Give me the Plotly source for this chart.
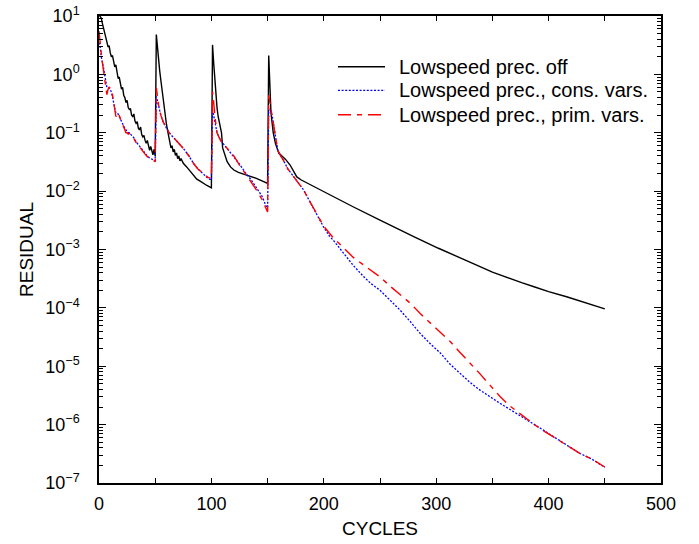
import plotly.graph_objects as go

# ---------------- data ----------------
off_x = [0, 1, 2, 3, 4, 5, 6, 7, 8, 9, 10, 11, 12, 13, 14, 15, 16, 17, 18, 19,
         20, 21, 22, 23, 24, 25, 26, 27, 28, 29, 30, 31, 32, 33, 34, 35, 36, 37, 38, 39,
         40, 41, 42, 43, 44, 45, 46, 47, 48, 49, 50, 51, 52, 53, 54, 55, 56, 57, 58, 59,
         60, 61, 62, 63, 64, 65, 66, 67, 68, 69, 70, 71, 72, 73, 75, 78, 81, 84, 87, 90,
         93, 96, 100, 101, 102, 103, 104, 105, 106, 107, 108, 109, 110, 112, 114, 117, 120, 124, 128, 134,
         140, 145, 150, 151, 152, 153, 155, 157, 160, 163, 166, 170, 173, 176, 180, 185, 190, 200, 210, 226,
         250, 271, 280, 302, 320, 336, 350, 364, 376, 387, 400, 416, 433, 450]
off_y = [10.5, 10.0, 9.2, 7.5, 6.3, 5.6, 4.2, 3.6, 2.95, 3.1, 2.35, 2.0, 2.1, 1.6, 1.35, 1.45, 1.0, 0.85, 0.9, 0.68,
         0.56, 0.6, 0.44, 0.4, 0.33, 0.36, 0.27, 0.25, 0.26, 0.2, 0.19, 0.21, 0.158, 0.145, 0.155, 0.12, 0.112, 0.125, 0.093, 0.085,
         0.09, 0.074, 0.066, 0.074, 0.056, 0.05, 0.058, 0.047, 0.042, 0.052, 0.04, 4.8, 2.6, 1.7, 1.15, 0.8, 0.55, 0.4, 0.28, 0.2,
         0.14, 0.11, 0.085, 0.066, 0.055, 0.06, 0.047, 0.052, 0.041, 0.045, 0.036, 0.04, 0.033, 0.036, 0.030, 0.026, 0.022, 0.019, 0.016, 0.0148,
         0.0135, 0.0125, 0.0114, 3.2, 1.6, 0.75, 0.42, 0.27, 0.19, 0.145, 0.12, 0.10, 0.055, 0.040, 0.032, 0.026, 0.023, 0.021, 0.0198, 0.0183,
         0.0166, 0.0150, 0.0136, 2.1, 0.5, 0.22, 0.10, 0.065, 0.045, 0.040, 0.035, 0.028, 0.022, 0.0175, 0.0155, 0.0138, 0.0125, 0.0098, 0.0077, 0.0054,
         0.0032, 0.0020, 0.00166, 0.00105, 0.00075, 0.00054, 0.00041, 0.000325, 0.00027, 0.00023, 0.00019, 0.000155, 0.000123, 9.6e-5]

cons_x = [0, 1, 2, 3, 4, 5, 6, 7, 8, 9, 10, 11, 12, 13, 14, 15, 16, 17, 18, 19,
          20, 21, 22, 23, 24, 25, 26, 27, 28, 29, 31, 33, 35, 37, 39, 41, 43, 45, 47, 49,
          50, 51, 52, 53, 55, 57, 60, 63, 67, 71, 75, 80, 84, 88, 93, 97, 100, 101, 102, 103,
          105, 108, 112, 116, 120, 125, 130, 135, 140, 145, 150, 151, 152, 154, 156.5, 159, 161, 164, 168, 171,
          174, 178, 182, 186, 190, 195, 200, 205, 209, 215, 220, 226, 235, 242, 250, 259, 268, 277, 286, 295,
          304, 312, 321, 330, 339, 348, 357, 366, 375, 384, 393, 402, 411, 420, 428, 438, 450]
cons_y = [3.5, 3.0, 2.0, 1.7, 1.3, 1.0, 0.75, 0.6, 0.6, 0.58, 0.55, 0.5, 0.42, 0.33, 0.26, 0.22, 0.21, 0.21, 0.19, 0.17,
          0.155, 0.145, 0.13, 0.12, 0.11, 0.105, 0.10, 0.10, 0.095, 0.09, 0.082, 0.07, 0.062, 0.055, 0.049, 0.044, 0.040, 0.037, 0.035, 0.034,
          0.033, 0.42, 0.36, 0.29, 0.20, 0.155, 0.12, 0.097, 0.08, 0.066, 0.054, 0.040, 0.030, 0.024, 0.0192, 0.0165, 0.0155, 0.245, 0.20, 0.16,
          0.10, 0.075, 0.06, 0.05, 0.04, 0.029, 0.021, 0.016, 0.0115, 0.0082, 0.0048, 0.26, 0.25, 0.20, 0.10, 0.05, 0.042, 0.034, 0.024, 0.020,
          0.017, 0.0135, 0.0105, 0.0075, 0.0054, 0.0036, 0.0024, 0.0017, 0.0014, 0.0010, 0.00076, 0.00054, 0.00035, 0.00026, 0.00020, 0.000135, 9.1e-5, 5.8e-5, 3.6e-5, 2.4e-5,
          1.66e-5, 1.1e-5, 7.6e-6, 5.3e-6, 3.9e-6, 2.95e-6, 2.3e-6, 1.8e-6, 1.43e-6, 1.1e-6, 8.6e-7, 6.6e-7, 5.2e-7, 4.0e-7, 3.2e-7, 2.6e-7, 1.85e-7]

prim_x = [0, 1, 2, 3, 4, 5, 6, 7, 8, 9, 10, 11, 12, 13, 14, 15, 16, 17, 18, 19,
          20, 21, 22, 23, 24, 25, 26, 27, 28, 29, 31, 33, 35, 37, 39, 41, 43, 45, 47, 49,
          50, 51, 52, 53, 55, 57, 60, 63, 67, 71, 75, 80, 84, 88, 93, 97, 100, 101, 102, 103,
          105, 108, 112, 116, 120, 125, 130, 135, 140, 145, 150, 151, 152, 154, 156.5, 159, 161, 164, 168, 171,
          174, 178, 182, 186, 190, 195, 200, 205, 209, 215, 220, 226, 235, 242, 250, 259, 268, 277, 286, 295,
          304, 312, 321, 330, 339, 348, 357, 366, 375, 384, 393, 402, 411, 420, 428, 438, 450]
prim_y = [5.5, 3.2, 2.3, 1.6, 1.15, 0.9, 0.6, 0.45, 0.55, 0.6, 0.58, 0.55, 0.45, 0.32, 0.24, 0.19, 0.2, 0.22, 0.2, 0.17,
          0.15, 0.14, 0.125, 0.11, 0.10, 0.10, 0.095, 0.097, 0.092, 0.09, 0.08, 0.068, 0.06, 0.053, 0.048, 0.043, 0.039, 0.036, 0.034, 0.033,
          0.032, 0.59, 0.42, 0.30, 0.20, 0.155, 0.12, 0.097, 0.08, 0.066, 0.054, 0.040, 0.030, 0.024, 0.0195, 0.0172, 0.0165, 0.5, 0.34, 0.2,
          0.10, 0.075, 0.06, 0.05, 0.04, 0.028, 0.020, 0.015, 0.0105, 0.0072, 0.0044, 0.44, 0.33, 0.22, 0.10, 0.05, 0.042, 0.034, 0.024, 0.020,
          0.017, 0.0135, 0.0105, 0.0075, 0.0054, 0.0036, 0.0025, 0.0019, 0.00155, 0.0012, 0.00098, 0.00074, 0.00055, 0.00044, 0.00034, 0.000235, 0.00017, 0.00012, 7.9e-5, 5.5e-5,
          3.8e-5, 2.7e-5, 1.74e-5, 1.15e-5, 7.4e-6, 4.7e-6, 3.0e-6, 2.05e-6, 1.5e-6, 1.12e-6, 8.4e-7, 6.5e-7, 5.1e-7, 4.0e-7, 3.2e-7, 2.6e-7, 1.88e-7]

series_names = ["Lowspeed prec. off", "Lowspeed prec., cons. vars.", "Lowspeed prec., prim. vars."]
series_colors = ["black", "#0000ff", "#ff0000"]
series_dash = ["solid", "2px,1.6px", "13px,6px,5px,6px"]
series_width = [1.4, 1.3, 1.4]

x_tick_vals = [0, 100, 200, 300, 400, 500]
x_tick_text = ["0", "100", "200", "300", "400", "500"]
y_tick_vals = [1e-7, 1e-6, 1e-5, 1e-4, 1e-3, 1e-2, 1e-1, 1e0, 1e1]
y_tick_text = ["10<sup>\u22127</sup>", "10<sup>\u22126</sup>", "10<sup>\u22125</sup>", "10<sup>\u22124</sup>",
               "10<sup>\u22123</sup>", "10<sup>\u22122</sup>", "10<sup>\u22121</sup>", "10<sup>0</sup>", "10<sup>1</sup>"]

FONT = "Liberation Sans, Arial, Helvetica, sans-serif"
W, H = 699, 544
ML, MR, MT, MB = 99, 38, 16, 61
PW, PH = W - ML - MR, H - MT - MB


def px_to_paper(px, py):
    return (px - ML) / PW, (H - MB - py) / PH


fig = go.Figure()
for xs, ys, nm, c, d, w in zip([off_x, cons_x, prim_x], [off_y, cons_y, prim_y],
                               series_names, series_colors, series_dash, series_width):
    fig.add_trace(go.Scatter(x=xs, y=ys, mode="lines", name=nm, showlegend=False,
                             line=dict(color=c, width=w, dash=d)))

# legend drawn as layout items (sample line + label) to match the reference spacing
legend_rows_px = [66.7, 90.3, 114.7]
shapes, annotations = [], []
for row_y, nm, c, d, w in zip(legend_rows_px, series_names, series_colors, series_dash, series_width):
    x0, y0 = px_to_paper(338, row_y)
    x1, _ = px_to_paper(385, row_y)
    shapes.append(dict(type="line", xref="paper", yref="paper", x0=x0, x1=x1, y0=y0, y1=y0,
                       line=dict(color=c, width=w, dash=d)))
    tx, _ = px_to_paper(397, row_y)
    annotations.append(dict(text=nm, xref="paper", yref="paper", x=tx, y=y0,
                            xanchor="left", yanchor="middle", showarrow=False,
                            font=dict(size=20, family=FONT, color="black")))

fig.update_layout(
    width=W, height=H,
    margin=dict(l=ML, r=MR, t=MT, b=MB, autoexpand=False),
    paper_bgcolor="white", plot_bgcolor="white",
    font=dict(family=FONT, size=18, color="black"),
    showlegend=False,
    shapes=shapes, annotations=annotations,
    xaxis=dict(range=[0, 500], tickmode="array", tickvals=x_tick_vals, ticktext=x_tick_text,
               ticks="inside", ticklen=5, tickcolor="black", tickwidth=1,
               minor=dict(ticks="inside", ticklen=5, dtick=50, tick0=0, tickcolor="black", showgrid=False),
               showline=True, linecolor="black", linewidth=1.5, mirror="ticks",
               showgrid=False, zeroline=False, automargin=False, ticklabelstandoff=4,
               title=dict(text="CYCLES", font=dict(size=19), standoff=8),
               tickfont=dict(size=18)),
    yaxis=dict(type="log", range=[-7, 1], tickmode="array", tickvals=y_tick_vals, ticktext=y_tick_text,
               ticks="inside", ticklen=7, tickcolor="black", tickwidth=1,
               minor=dict(ticks="inside", ticklen=4, dtick="D1", tickcolor="black", showgrid=False),
               showline=True, linecolor="black", linewidth=1.5, mirror="ticks",
               showgrid=False, zeroline=False, automargin=False, ticklabelstandoff=14,
               title=dict(text="RESIDUAL", font=dict(size=19), standoff=7),
               tickfont=dict(size=18)),
)

fig.write_html("out.html")
